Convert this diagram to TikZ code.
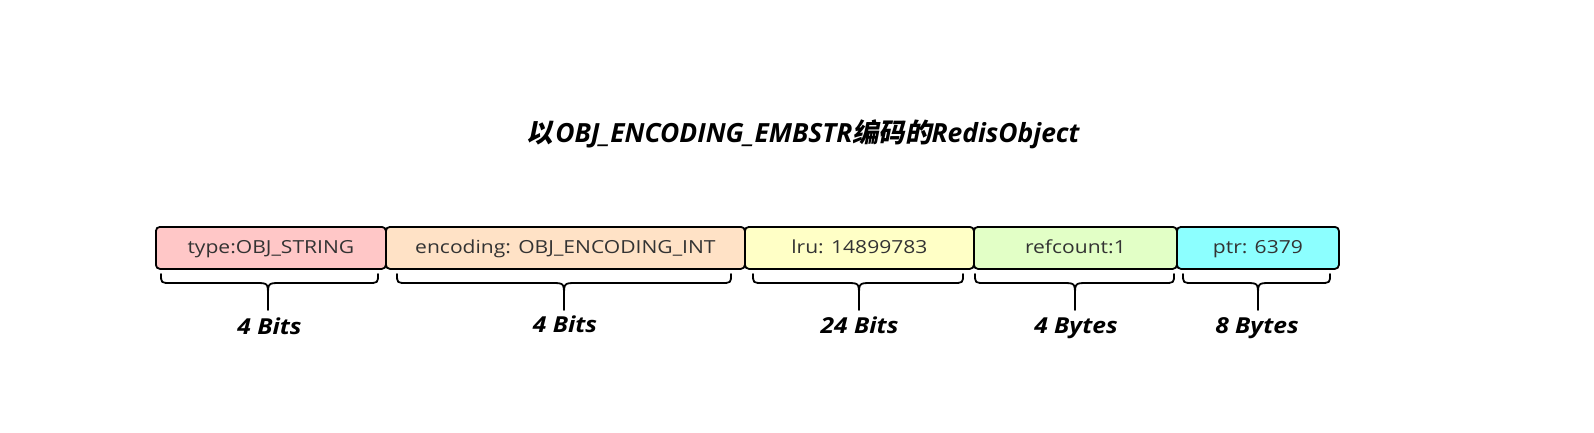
\documentclass[tikz,border=0pt]{standalone}
\usepackage{fontspec}
\setmainfont{Open Sans}
\newfontfamily\cellfont[FakeStretch=1.17]{Open Sans}
\newfontfamily\lblfont[FakeStretch=1.12]{Open Sans}
\newfontfamily\cjk[FakeSlant=0.2]{Noto Sans CJK SC Bold}
\definecolor{cA}{RGB}{255,199,199}
\definecolor{cB}{RGB}{255,226,198}
\definecolor{cC}{RGB}{255,255,198}
\definecolor{cD}{RGB}{226,255,198}
\definecolor{cE}{RGB}{140,255,255}
\definecolor{txt}{RGB}{51,51,51}
\tikzset{
  cell/.style={draw=black, line width=1.8pt, rounded corners=4pt, minimum height=42pt,
    inner sep=0pt, text height=13pt, text depth=1pt, text=txt,
    font=\cellfont\fontsize{18}{20}\selectfont, anchor=north west},
  bracestyle/.style={draw=black, line width=1.8pt, line cap=round},
  lbl/.style={font=\lblfont\fontsize{22}{24}\selectfont\bfseries\itshape, text=black, anchor=base}
}
\newcommand\mybrace[3]{%
  \draw[bracestyle] (#1,274) .. controls (#1,283) .. (#1+10,283) -- (#2-13,283) .. controls (#2,283) .. (#2,296) -- (#2,310);
  \draw[bracestyle] (#3,274) .. controls (#3,283) .. (#3-10,283) -- (#2+13,283) .. controls (#2,283) .. (#2,296);
}
\begin{document}
\begin{tikzpicture}[x=1pt,y=-1pt]
\useasboundingbox[fill=white] (0,0) rectangle (1594,433);
\node[font=\fontsize{26.4}{28}\selectfont\bfseries\itshape] (title) at (803,134)
  {{\cjk 以}\kern2.5pt OBJ\_ENCODING\_EMBSTR{\cjk 编码的}RedisObject};
\node[cell, fill=cA, minimum width=230pt] (b1) at (155,226) {type:OBJ\_STRING};
\node[cell, fill=cB, minimum width=359pt] (b2) at (385,226) {encoding: OBJ\_ENCODING\_INT};
\node[cell, fill=cC, minimum width=229pt] (b3) at (744,226) {lru: 14899783};
\node[cell, fill=cD, minimum width=203pt] (b4) at (973,226) {refcount:1};
\node[cell, fill=cE, minimum width=162pt] (b5) at (1176,226) {ptr: 6379};
\mybrace{161}{268}{378}
\mybrace{397}{564}{731}
\mybrace{753}{859}{963}
\mybrace{975}{1075}{1174}
\mybrace{1183}{1258}{1330}
\node[lbl] (l1) at (269.5,334) {4 Bits};
\node[lbl] (l2) at (565,332) {4 Bits};
\node[lbl] (l3) at (859.5,333) {24 Bits};
\node[lbl] (l4) at (1076,333) {4 Bytes};
\node[lbl] (l5) at (1257,333) {8 Bytes};
\end{tikzpicture}
\end{document}
